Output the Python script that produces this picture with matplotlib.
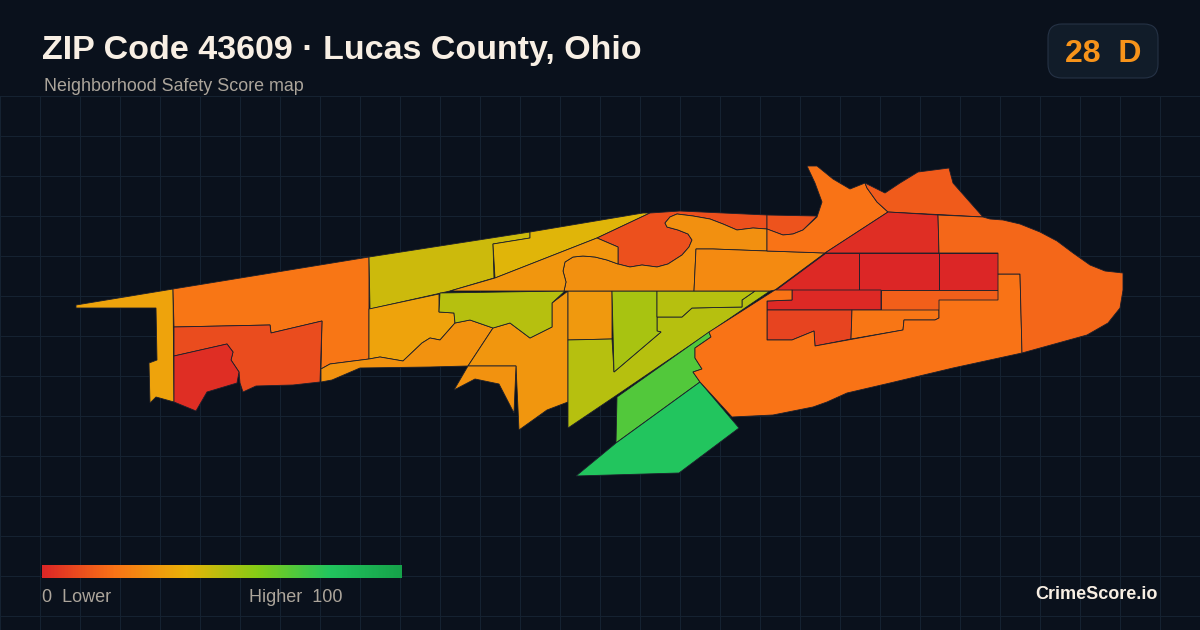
import numpy as np
import matplotlib
matplotlib.use('Agg')
import matplotlib.pyplot as plt
from matplotlib.colors import LinearSegmentedColormap
from matplotlib.patches import Polygon, FancyBboxPatch

# block group outlines (x, y in image pixels)
west_spur = [(76,305),(173,289),(174,402),(156,397),(150,403),(149,363),(157,360),(156,308),(76,308)]
north_west = [(173,289),(369,257),(369,359),(330,364),(321,369),(322,321),(271,333),(270,325),(222,326),(174,327)]
mid_west = [(174,327),(222,326),(270,325),(271,333),(322,321),(320,382),(293,385),(256,386),(243,392),(240,383),(239,372),(231,360),(233,352),(227,344),(174,356)]
south_west = [(174,356),(227,344),(233,352),(231,360),(239,372),(237,383),(207,392),(196,411),(174,402)]
upper_a = [(369,257),(530,232),(530,238),(493,244),(494,278),(450,291),(370,309)]
upper_b = [(493,244),(530,238),(530,232),(643,213),(650,213),(597,238),(495,278)]
center_a = [(369,309),(439,294),(439,312),(454,313),(455,323),(440,340),(430,338),(422,343),(403,361),(380,357),(369,359)]
south_strip = [(321,369),(330,364),(369,359),(380,357),(403,361),(422,343),(430,338),(440,340),(455,323),(470,320),(493,328),(468,366),(430,367),(360,368),(332,380),(321,382)]
center_b = [(493,328),(510,323),(530,338),(552,327),(552,303),(568,291),(568,402),(547,410),(519,430),(516,366),(468,366)]
south_spike = [(468,366),(516,366),(514,413),(499,384),(475,379),(454,390)]
center_c = [(440,293),(565,291),(552,303),(552,327),(530,338),(510,323),(493,328),(470,320),(455,323),(454,313),(439,312)]
block_a = [(568,291),(612,291),(612,339),(568,340)]
wedge_a = [(568,340),(612,339),(614,372),(661,332),(657,331),(657,317),(682,317),(692,308),(742,307),(742,300),(755,291),(770,291),(617,395),(568,428)]
wedge_b = [(612,291),(657,291),(657,331),(661,332),(614,372)]
wedge_c = [(657,291),(755,291),(742,300),(742,307),(692,308),(682,317),(657,317)]
green_a = [(617,397),(709,332),(711,337),(695,348),(695,358),(702,369),(693,372),(700,382),(616,443)]
green_b = [(700,382),(739,428),(679,473),(576,476),(616,443)]
river_a = [(597,238),(650,213),(680,211),(767,215),(767,229),(753,228),(737,230),(723,224),(710,219),(693,216),(677,214),(670,217),(665,223),(667,227),(678,230),(688,234),(692,240),(689,247),(682,255),(668,264),(657,267),(642,265),(630,267),(618,264),(618,247)]
river_b = [(665,223),(670,217),(677,214),(693,216),(710,219),(723,224),(737,230),(753,228),(767,229),(767,251),(713,249),(696,249),(694,291),(564,291),(566,282),(563,271),(565,262),(573,257),(583,256),(595,257),(607,260),(618,264),(630,267),(642,265),(657,267),(668,264),(682,255),(689,247),(692,240),(688,234),(678,230),(667,227)]
river_c = [(597,238),(618,247),(618,264),(607,260),(595,257),(583,256),(573,257),(565,262),(563,271),(566,282),(564,291),(450,291),(495,278)]
block_b = [(696,249),(713,249),(767,251),(797,252),(825,253),(775,290),(770,291),(694,291)]
top_strip_b = [(767,215),(817,216),(803,230),(793,234),(783,235),(767,229)]
north_east_a = [(807,166),(817,166),(833,179),(850,189),(865,183),(867,188),(877,202),(888,212),(825,253),(797,252),(767,251),(767,229),(783,235),(793,234),(803,230),(817,217),(822,202),(815,183)]
north_east_b = [(865,183),(885,193),(900,183),(918,172),(949,168),(953,183),(983,217),(947,215),(888,212),(877,202),(867,188)]
red_top = [(888,212),(938,215),(939,253),(825,253)]
red_row_a = [(825,253),(859,253),(859,290),(775,290)]
red_row_b = [(859,253),(939,253),(939,290),(859,290)]
red_row_c = [(939,253),(998,253),(998,290),(939,290)]
red_row_d = [(792,290),(881,290),(881,310),(767,310),(767,301),(792,300)]
east_a = [(881,290),(998,290),(998,300),(939,300),(939,310),(881,310)]
east_b = [(767,310),(852,310),(851,339),(815,346),(814,331),(792,340),(767,340)]
east_c = [(852,310),(939,310),(939,318),(935,320),(904,320),(903,330),(851,339)]
south_east = [(775,290),(792,290),(792,300),(767,301),(767,340),(792,340),(814,331),(815,346),(903,330),(904,320),(935,320),(939,318),(939,300),(998,300),(998,274),(1020,274),(1022,353),(953,368),(890,383),(847,393),(827,402),(813,407),(773,415),(732,417),(700,382),(693,372),(702,369),(695,358),(695,348),(711,337),(709,332)]
far_east = [(938,215),(983,217),(990,219),(1003,220),(1020,224),(1040,232),(1057,241),(1073,253),(1090,265),(1105,271),(1123,273),(1123,290),(1120,308),(1108,323),(1087,335),(1022,353),(1020,274),(998,274),(998,253),(939,253)]

# score of each area
areas = [west_spur, north_west, mid_west, south_west, upper_a, upper_b, center_a, south_strip,
         center_b, south_spike, center_c, block_a, wedge_a, wedge_b, wedge_c, green_a, green_b,
         river_a, river_b, river_c, block_b, top_strip_b, north_east_a, north_east_b,
         red_top, red_row_a, red_row_b, red_row_c, red_row_d, east_a, east_b, east_c, south_east, far_east]
scores = [35, 21, 10, 2, 46, 42, 35, 30,
          31, 30, 50, 32, 50, 53, 50, 70, 80,
          11, 29, 31, 27, 12, 20, 14,
          2, 1, 0, 0, 1, 15, 8, 21, 20, 17]

legend_stops = [0, 0.2, 0.4, 0.6, 0.8, 1]
legend_colors = ['#dc2626', '#f97316', '#eab308', '#84cc16', '#22c55e', '#16a34a']

bg = '#0a111c'
plt.rcParams['font.family'] = ['Liberation Sans', 'DejaVu Sans']

cmap = LinearSegmentedColormap.from_list('score', list(zip(legend_stops, legend_colors)))

fig = plt.figure(figsize=(12, 6.3), dpi=100, facecolor=bg)
ax = fig.add_axes([0, 0, 1, 1])
ax.set_xlim(0, 1200)
ax.set_ylim(630, 0)
ax.axis('off')

# grid only starts under the header
for x in range(0, 1201, 40):
    ax.plot([x, x], [96, 630], color='#152231', lw=0.72, zorder=1)
for y in range(96, 630, 40):
    ax.plot([0, 1200], [y, y], color='#152231', lw=0.72, zorder=1)

for area, score in zip(areas, scores):
    ax.add_patch(Polygon(area, closed=True, facecolor=cmap(score / 100), edgecolor='#1c1f2b', lw=0.6, zorder=2))

ax.text(42, 59, 'ZIP Code 43609 · Lucas County, Ohio', color='#f8efe4', fontsize=24.45, fontweight='bold', va='baseline', ha='left')
ax.text(44, 91, 'Neighborhood Safety Score map', color='#aca59b', fontsize=12.9, va='baseline', ha='left')

badge = FancyBboxPatch((1048, 24), 110, 54, boxstyle='round,pad=0,rounding_size=14',
                       facecolor='#111c29', edgecolor='#253245', lw=0.8, zorder=3)
ax.add_patch(badge)
ax.text(1103, 62, '28  D', color='#f7931a', fontsize=23, fontweight='bold', va='baseline', ha='center', zorder=4)

gradient = np.linspace(0, 1, 360).reshape(1, -1)
ax.imshow(gradient, cmap=cmap, extent=(42, 402, 578, 565), aspect='auto', zorder=3)
ax.set_xlim(0, 1200)
ax.set_ylim(630, 0)
ax.text(42, 602.5, '0  Lower', color='#aca59b', fontsize=13, va='baseline', ha='left')
ax.text(249, 602.5, 'Higher  100', color='#aca59b', fontsize=13, va='baseline', ha='left')
ax.text(1158, 599, 'CrimeScore.io', color='#f8efe4', fontsize=13, fontweight='bold', va='baseline', ha='right')

fig.savefig('out.png', dpi=100, facecolor=bg)
